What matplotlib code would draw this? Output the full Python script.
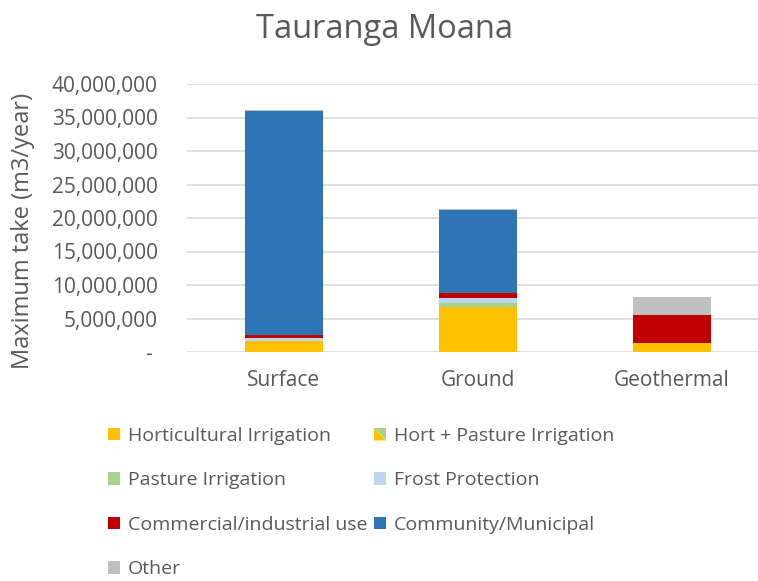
import matplotlib.pyplot as plt
from matplotlib.legend_handler import HandlerBase
from matplotlib.patches import Patch, Polygon
from matplotlib.ticker import FuncFormatter

plt.rcParams['font.family'] = ['Open Sans', 'DejaVu Sans']

# data (m3/year)
categories = ['Surface', 'Ground', 'Geothermal']
series = ['Horticultural Irrigation', 'Hort + Pasture Irrigation', 'Pasture Irrigation',
          'Frost Protection', 'Commercial/industrial use', 'Community/Municipal', 'Other']
horticultural = [1600000, 6650000, 1300000]
hort_pasture = [0, 0, 0]
pasture = [0, 600000, 0]
frost = [520000, 840000, 0]
commercial = [380000, 660000, 4200000]
community = [33500000, 12400000, 0]
other = [150000, 150000, 2650000]
values = [horticultural, hort_pasture, pasture, frost, commercial, community, other]
colors = ['#FFC000', '#FFC000', '#A9D18E', '#BDD7EE', '#C00000', '#2E75B6', '#BFBFBF']

grey = '#595959'

fig = plt.figure(figsize=(7.58, 5.81), dpi=100)
# plot area is cropped on the right in the original
ax = fig.add_axes([187 / 758, 1 - 352 / 581, 582 / 758, 268 / 581])

x = range(len(categories))
bottom = [0, 0, 0]
for name, vals, c in zip(series, values, colors):
    ax.bar(x, vals, width=0.4, bottom=bottom, color=c, label=name, zorder=3)
    bottom = [b + v for b, v in zip(bottom, vals)]

ax.set_ylim(0, 40000000)
ax.set_yticks(range(0, 40000001, 5000000))
ax.yaxis.set_major_formatter(FuncFormatter(lambda v, p: '- ' if v == 0 else f'{int(v):,}'))
ax.set_xlim(-0.5, 2.5)
ax.set_xticks(list(x))
ax.set_xticklabels(categories)
ax.grid(axis='y', color='#D9D9D9', linewidth=1.2, zorder=0)
for s in ax.spines.values():
    s.set_visible(False)
ax.tick_params(length=0, colors=grey, labelsize=15)
ax.tick_params(axis='y', pad=21)
ax.tick_params(axis='x', pad=13)
ax.set_ylabel('Maximum take (m3/year)', color=grey, fontsize=17)
ax.yaxis.set_label_coords((35 - 187) / 582, (352 - 231) / 268)

fig.text(385 / 758, 1 - 30 / 581, 'Tauranga Moana', ha='center', va='center',
         fontsize=23.5, color=grey)


class SplitHandler(HandlerBase):
    def create_artists(self, legend, orig_handle, xd, yd, w, h, fontsize, trans):
        x0, y0 = -xd, -yd
        lo = Polygon([[x0, y0], [x0 + w, y0], [x0, y0 + h]], closed=True,
                     facecolor='#FFC000', edgecolor='none', transform=trans)
        hi = Polygon([[x0 + w, y0], [x0 + w, y0 + h], [x0, y0 + h]], closed=True,
                     facecolor='#A9D18E', edgecolor='none', transform=trans)
        return [lo, hi]


handles = [Patch(facecolor=c) for c in colors]
split = handles[1]
leg_kw = dict(loc='upper left', frameon=False, fontsize=14, labelcolor=grey,
              handlelength=0.62, handleheight=0.62, handletextpad=0.42,
              labelspacing=1.36, borderpad=0, borderaxespad=0)
left_idx = [0, 2, 4, 6]
right_idx = [1, 3, 5]
leg1 = fig.legend([handles[i] for i in left_idx], [series[i] for i in left_idx],
                  bbox_to_anchor=(108 / 758, 1 - 427 / 581), **leg_kw)
leg2 = fig.legend([handles[i] for i in right_idx], [series[i] for i in right_idx],
                  bbox_to_anchor=(374 / 758, 1 - 427 / 581),
                  handler_map={split: SplitHandler()}, **leg_kw)

fig.savefig('out.png', dpi=100)
